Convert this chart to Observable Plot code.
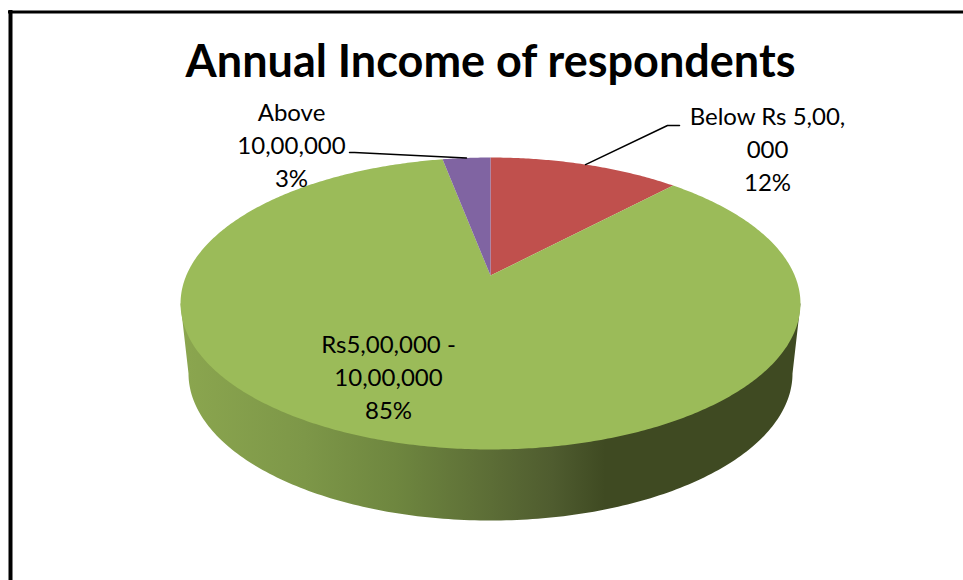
<!DOCTYPE html>
<html>
<head>
<meta charset="utf-8">
<script src="https://cdn.jsdelivr.net/npm/d3@7"></script>
<script src="https://cdn.jsdelivr.net/npm/@observablehq/plot@0.6"></script>
<style>
  html, body { margin: 0; padding: 0; background: #fff; }
</style>
</head>
<body>
<script>
// Survey results: share of respondents per annual income band
const categories = ["Below Rs 5,00,000", "Rs5,00,000 - 10,00,000", "Above 10,00,000"];
const shares = [12, 85, 3];
const wrappedNames = ["Below Rs 5,00,\n000", "Rs5,00,000 -\n10,00,000", "Above\n10,00,000"];
const sliceColors = ["#C0504D", "#9BBB59", "#8064A2"];
const chartTitle = "Annual Income of respondents";

// Perspective disc: angle runs clockwise from twelve o'clock, the far rim is foreshortened
const disc = {cx: 490, cy: 275, a: 304.2, b: 140.6, k: 0.1918};
const rimPoint = (t) => {
  const u = Math.sin(t), v = Math.cos(t), d = 1 + disc.k * v;
  return {x: disc.cx + disc.a * u / d, y: disc.cy - disc.b * v / d};
};

// Cumulative angles for each slice, in drawing order
const total = d3.sum(shares);
let running = 0;
const slices = categories.map((category, i) => {
  const start = running / total * 2 * Math.PI;
  running += shares[i];
  const end = running / total * 2 * Math.PI;
  return {category, share: shares[i], start, end, mid: (start + end) / 2};
});

// Wedge outlines on the top face
const wedgeRows = slices.flatMap((s) => {
  const n = Math.max(8, Math.ceil((s.end - s.start) / 0.01));
  const arc = d3.range(n + 1).map((i) => rimPoint(s.start + (s.end - s.start) * i / n));
  return [{x: disc.cx, y: disc.cy}, ...arc, {x: disc.cx, y: disc.cy}]
    .map((p) => ({...p, category: s.category}));
});

// Wall of the disc: lower half of the base rim, joined to the widest points of the top face
const base = {cx: 490, cy: 373, rx: 302, ry: 147};
const wallRows = [
  {x: 180, y: 303},
  ...d3.range(0, 181, 1).map((deg) => {
    const a = Math.PI - deg * Math.PI / 180;
    return {x: base.cx + base.rx * Math.cos(a), y: base.cy + base.ry * Math.sin(a)};
  }),
  {x: 800, y: 303}
];

// Leader lines run from the rim at the middle of the slice to the label
const topLeader = [
  {...rimPoint(slices[0].mid), id: "below"},
  {x: 667, y: 125, id: "below"},
  {x: 679, y: 125, id: "below"},
  {...rimPoint(slices[2].mid), id: "above"},
  {x: 354, y: 152, id: "above"},
  {x: 349, y: 152, id: "above"}
];

const labelRows = [
  {text: `${wrappedNames[0]}\n${shares[0]}%`, x: 767, y: 147},
  {text: `${wrappedNames[1]}\n${shares[1]}%`, x: 388, y: 375},
  {text: `${wrappedNames[2]}\n${shares[2]}%`, x: 291, y: 143}
];

// Horizontal shading for the wall
const wallShade = () => {
  const defs = d3.create("svg:defs");
  const g = defs.append("linearGradient").attr("id", "wall-shade")
    .attr("x1", 0).attr("x2", 1).attr("y1", 0).attr("y2", 0);
  [[0, "#8BA64F"], [0.2, "#7D9748"], [0.35, "#6E863F"], [0.5, "#5C6D36"],
   [0.6, "#4F5C2F"], [0.685, "#3F4A22"], [1, "#3F4A22"]]
    .forEach(([o, c]) => g.append("stop").attr("offset", o).attr("stop-color", c));
  return defs.node();
};

const fontFamily = "Lato, 'Open Sans', sans-serif";

const chart = Plot.plot({
  width: 963,
  height: 580,
  margin: 0,
  x: {domain: [0, 963], range: [0, 963], axis: null},
  y: {domain: [0, 580], range: [0, 580], axis: null},
  color: {domain: categories, range: sliceColors},
  style: {background: "#fff", overflow: "hidden"},
  marks: [
    wallShade,
    // Outer frame of the chart area
    Plot.ruleX([10], {stroke: "#000", strokeWidth: 4, y1: 10, y2: 580}),
    Plot.ruleY([11.5], {stroke: "#000", strokeWidth: 3, x1: 8, x2: 963}),
    Plot.line(wallRows, {x: "x", y: "y", fill: "url(#wall-shade)", stroke: "none"}),
    Plot.line(wedgeRows, {x: "x", y: "y", z: "category", fill: "category", stroke: "none"}),
    Plot.line(topLeader, {x: "x", y: "y", z: "id", stroke: "#000", strokeWidth: 1.5, strokeLinejoin: "miter"}),
    Plot.text([chartTitle], {
      x: () => 490, y: () => 62, text: (d) => d,
      fontFamily, fontWeight: 700, fontSize: 45, fill: "#000"
    }),
    Plot.text(labelRows, {
      x: "x", y: "y", text: "text",
      fontFamily, fontSize: 24, lineHeight: 1.375, fill: "#000"
    })
  ]
});
document.body.append(chart);
</script>
</body>
</html>
